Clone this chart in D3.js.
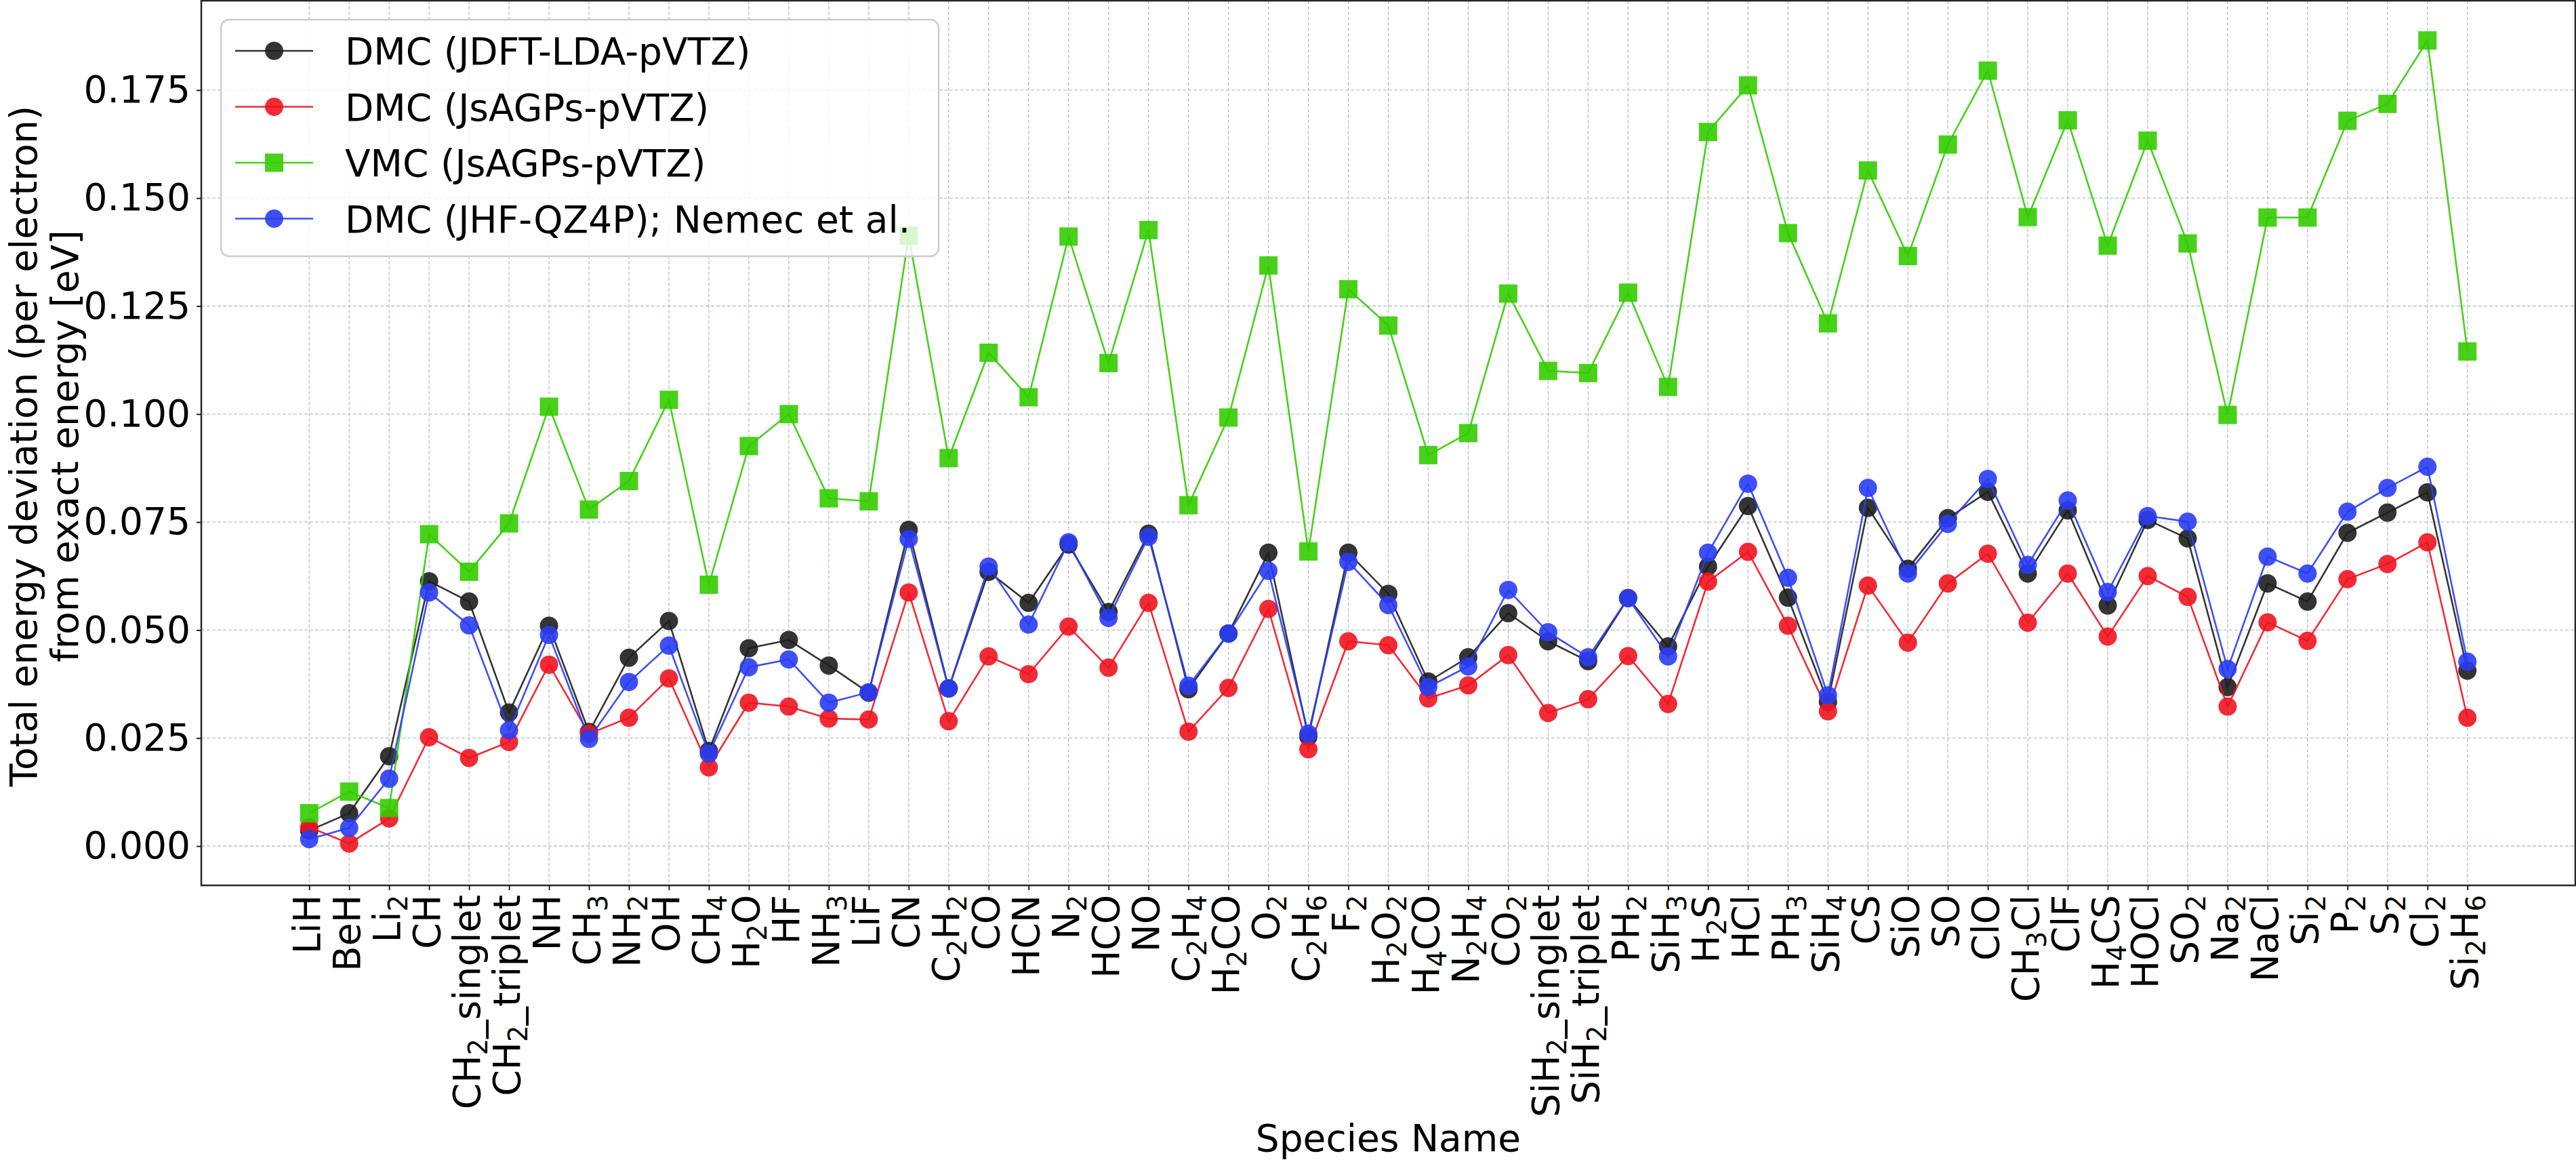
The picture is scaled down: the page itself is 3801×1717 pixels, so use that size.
<!DOCTYPE html>
<html><head><meta charset="utf-8">
<script src="https://cdn.jsdelivr.net/npm/d3@7"></script>
<style>
body{margin:0;background:#fff;}
svg{display:block;}
text{font-family:"DejaVu Sans",sans-serif;fill:#000;}
</style>
</head><body>
<svg id="chart" width="3801" height="1717"></svg>
<script>
const species = ["LiH","BeH","Li2","CH","CH2_singlet","CH2_triplet","NH","CH3","NH2","OH","CH4","H2O","HF","NH3","LiF","CN","C2H2","CO","HCN","N2","HCO","NO","C2H4","H2CO","O2","C2H6","F2","H2O2","H4CO","N2H4","CO2","SiH2_singlet","SiH2_triplet","PH2","SiH3","H2S","HCl","PH3","SiH4","CS","SiO","SO","ClO","CH3Cl","ClF","H4CS","HOCl","SO2","Na2","NaCl","Si2","P2","S2","Cl2","Si2H6"];

const dmcJDFT = [0.0036,0.0076,0.0208,0.0613,0.0566,0.0309,0.0510,0.0264,0.0436,0.0521,0.0220,0.0458,0.0477,0.0418,0.0355,0.0732,0.0365,0.0635,0.0563,0.0698,0.0542,0.0723,0.0363,0.0492,0.0679,0.0253,0.0679,0.0584,0.0381,0.0437,0.0539,0.0474,0.0428,0.0574,0.0462,0.0647,0.0787,0.0575,0.0334,0.0783,0.0642,0.0759,0.0820,0.0631,0.0777,0.0557,0.0755,0.0712,0.0368,0.0608,0.0566,0.0725,0.0772,0.0819,0.0406];

const dmcJsAGPs = [0.0044,0.0006,0.0064,0.0252,0.0204,0.0241,0.0420,0.0260,0.0297,0.0388,0.0182,0.0332,0.0323,0.0295,0.0293,0.0587,0.0289,0.0439,0.0398,0.0508,0.0413,0.0563,0.0265,0.0366,0.0549,0.0224,0.0474,0.0465,0.0342,0.0372,0.0442,0.0308,0.0340,0.0440,0.0329,0.0612,0.0681,0.0510,0.0312,0.0603,0.0471,0.0608,0.0677,0.0517,0.0631,0.0485,0.0625,0.0577,0.0323,0.0518,0.0475,0.0618,0.0653,0.0703,0.0297];

const vmcJsAGPs = [0.0076,0.0126,0.0088,0.0722,0.0635,0.0747,0.1017,0.0779,0.0845,0.1033,0.0605,0.0926,0.1000,0.0805,0.0798,0.1413,0.0898,0.1142,0.1039,0.1411,0.1118,0.1426,0.0789,0.0992,0.1344,0.0682,0.1289,0.1205,0.0905,0.0956,0.1279,0.1100,0.1095,0.1281,0.1063,0.1653,0.1761,0.1419,0.1210,0.1564,0.1366,0.1624,0.1795,0.1456,0.1680,0.1390,0.1633,0.1395,0.0998,0.1455,0.1455,0.1679,0.1718,0.1865,0.1145];

const dmcJHF = [0.0016,0.0042,0.0156,0.0587,0.0511,0.0268,0.0489,0.0248,0.0380,0.0464,0.0214,0.0414,0.0432,0.0332,0.0356,0.0711,0.0365,0.0647,0.0513,0.0703,0.0528,0.0716,0.0371,0.0492,0.0637,0.0260,0.0658,0.0558,0.0368,0.0416,0.0593,0.0495,0.0437,0.0574,0.0439,0.0679,0.0839,0.0621,0.0349,0.0829,0.0631,0.0746,0.0850,0.0651,0.0800,0.0588,0.0764,0.0751,0.0410,0.0670,0.0631,0.0774,0.0829,0.0878,0.0427];

const seriesNames = ["DMC (JDFT-LDA-pVTZ)","DMC (JsAGPs-pVTZ)","VMC (JsAGPs-pVTZ)","DMC (JHF-QZ4P); Nemec et al."];
const yTicks = [0.000,0.025,0.050,0.075,0.100,0.125,0.150,0.175];
const yLabelLines = ["Total energy deviation (per electron)","from exact energy [eV]"];
const xLabel = "Species Name";

const series = [
  {name: seriesNames[0], values: dmcJDFT,   color: "#1e1e1e", marker: "circle"},
  {name: seriesNames[1], values: dmcJsAGPs, color: "#f01420", marker: "circle"},
  {name: seriesNames[2], values: vmcJsAGPs, color: "#33cc00", marker: "square"},
  {name: seriesNames[3], values: dmcJHF,    color: "#2a3cf5", marker: "circle"}
];

const m = {left: 297, right: 3800, top: 1, bottom: 1306};
const FS = 55;
const svg = d3.select("#chart");

const x = d3.scalePoint().domain(species).range([m.left, m.right]).padding(2.7);
const y = d3.scaleLinear().domain([-0.0091, 0.1957]).range([m.bottom, m.top]);

// grid
const grid = svg.append("g");
grid.selectAll("line.gx").data(species).enter().append("line")
  .attr("x1", d => x(d)).attr("x2", d => x(d))
  .attr("y1", m.top).attr("y2", m.bottom)
  .attr("stroke", "#b4c4c4").attr("stroke-width", 1.3).attr("stroke-dasharray", "5,3");
grid.selectAll("line.gy").data(yTicks).enter().append("line")
  .attr("x1", m.left).attr("x2", m.right)
  .attr("y1", d => y(d)).attr("y2", d => y(d))
  .attr("stroke", "#b4c4c4").attr("stroke-width", 1.3).attr("stroke-dasharray", "5,3");

// axes
const xAxis = svg.append("g").attr("transform", `translate(0,${m.bottom})`)
  .call(d3.axisBottom(x).tickSize(7).tickSizeOuter(0));
xAxis.select(".domain").remove();
xAxis.selectAll(".tick line").attr("stroke", "#262626").attr("stroke-width", 2);
xAxis.selectAll(".tick text").remove();
xAxis.selectAll(".tick").append("text")
  .attr("transform", "translate(15,14) rotate(-90)")
  .attr("text-anchor", "end")
  .attr("font-size", FS)
  .each(function(d) {
    const t = d3.select(this);
    const parts = d.split(/(\d+)/).filter(p => p.length);
    let sub = false;
    parts.forEach(p => {
      const isDigit = /^\d+$/.test(p);
      const ts = t.append("tspan").text(p);
      if (isDigit) { ts.attr("font-size", FS * 0.7).attr("dy", 11); sub = true; }
      else if (sub) { ts.attr("dy", -11); sub = false; }
    });
  });

const yAxis = svg.append("g").attr("transform", `translate(${m.left},0)`)
  .call(d3.axisLeft(y).tickValues(yTicks).tickSize(7).tickPadding(9).tickFormat(d3.format(".3f")));
yAxis.select(".domain").remove();
yAxis.selectAll(".tick line").attr("stroke", "#262626").attr("stroke-width", 2);
yAxis.selectAll(".tick text").attr("font-size", FS).attr("font-family", "DejaVu Sans").attr("fill", "#000");

// frame
svg.append("rect").attr("x", m.left).attr("y", m.top)
  .attr("width", m.right - m.left).attr("height", m.bottom - m.top)
  .attr("fill", "none").attr("stroke", "#262626").attr("stroke-width", 2.5);

// data
const line = d3.line().x((d, i) => x(species[i])).y(d => y(d));
const plot = svg.append("g");
series.forEach(s => {
  const g = plot.append("g");
  g.append("path").datum(s.values).attr("d", line)
    .attr("fill", "none").attr("stroke", s.color).attr("stroke-width", 2.6).attr("stroke-opacity", 0.9);
  if (s.marker === "circle") {
    g.selectAll("circle").data(s.values).enter().append("circle")
      .attr("cx", (d, i) => x(species[i])).attr("cy", d => y(d)).attr("r", 13.5)
      .attr("fill", s.color).attr("fill-opacity", 0.9);
  } else {
    g.selectAll("rect").data(s.values).enter().append("rect")
      .attr("x", (d, i) => x(species[i]) - 13.5).attr("y", d => y(d) - 13.5)
      .attr("width", 27).attr("height", 27)
      .attr("fill", s.color).attr("fill-opacity", 0.9);
  }
});

// legend
const lg = svg.append("g");
lg.append("rect").attr("x", 326).attr("y", 29).attr("width", 1059).attr("height", 349)
  .attr("rx", 12).attr("fill", "#fff").attr("fill-opacity", 0.8)
  .attr("stroke", "#cccccc").attr("stroke-width", 2.5);
const entryY = [75, 157.5, 240, 322.5];
series.forEach((s, k) => {
  const yy = entryY[k];
  lg.append("line").attr("x1", 347).attr("x2", 462).attr("y1", yy).attr("y2", yy)
    .attr("stroke", s.color).attr("stroke-width", 2.6).attr("stroke-opacity", 0.9);
  if (s.marker === "circle") {
    lg.append("circle").attr("cx", 404.5).attr("cy", yy).attr("r", 13.5)
      .attr("fill", s.color).attr("fill-opacity", 0.9);
  } else {
    lg.append("rect").attr("x", 391).attr("y", yy - 13.5).attr("width", 27).attr("height", 27)
      .attr("fill", s.color).attr("fill-opacity", 0.9);
  }
  lg.append("text").attr("x", 509).attr("y", yy + 20).attr("font-size", FS).text(s.name);
});

// axis labels
svg.append("text").attr("x", (m.left + m.right) / 2).attr("y", 1698)
  .attr("text-anchor", "middle").attr("font-size", FS).text(xLabel);
yLabelLines.forEach((t, k) => {
  svg.append("text").attr("transform", `translate(${54 + k * 61},658) rotate(-90)`)
    .attr("text-anchor", "middle").attr("font-size", FS).text(t);
});
</script>
</body></html>
